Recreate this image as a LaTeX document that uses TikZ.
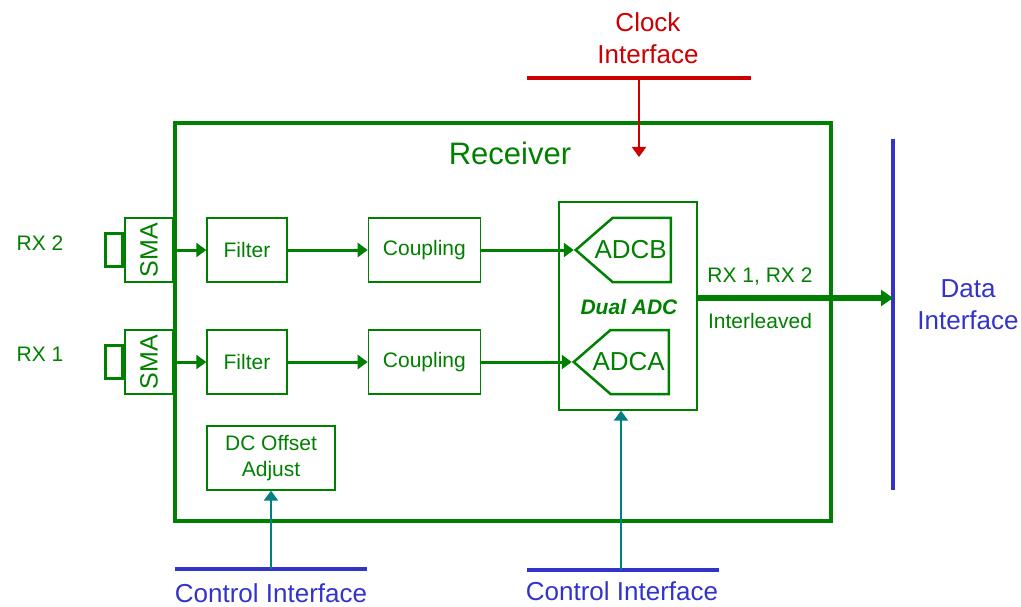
\documentclass[tikz,border=0pt]{standalone}
\usepackage{fontspec}
\setmainfont{Liberation Sans}
\usetikzlibrary{positioning,arrows.meta,shapes.symbols}
\definecolor{rxgreen}{RGB}{0,128,0}
\definecolor{clkred}{RGB}{204,0,0}
\definecolor{ifblue}{RGB}{51,51,204}
\definecolor{ctlteal}{RGB}{0,128,128}

\begin{document}
\begin{tikzpicture}[
  x=1pt, y=-1pt,
  font=\fontsize{21}{26}\selectfont,
  >={Triangle[length=10pt,width=14pt]},
  blk/.style={draw=rxgreen, line width=1.4pt, text=rxgreen, align=center,
              minimum height=64pt, inner sep=0pt},
  sma/.style={draw=rxgreen, line width=2.5pt, text=rxgreen, minimum width=64pt,
              minimum height=48pt, inner sep=0pt, font=\fontsize{25}{30}\selectfont},
  tab/.style={draw=rxgreen, line width=2.5pt, minimum width=17pt, minimum height=33pt,
              inner sep=0pt},
  adc/.style={draw=rxgreen, line width=2.5pt, text=rxgreen, signal, signal to=west,
              signal pointer angle=82, minimum height=64pt, inner ysep=0pt,
              inner xsep=4pt, anchor=east, font=\fontsize{26}{30}\selectfont},
  sig/.style={draw=rxgreen, line width=3pt},
  lbl/.style={text=rxgreen, align=center, inner sep=0pt},
  iface/.style={line width=4pt},
  ifname/.style={align=center, inner sep=0pt, font=\fontsize{26}{32}\selectfont}
]
\useasboundingbox (0,0) rectangle (1021,607);

\node[draw=rxgreen, line width=3.5pt, minimum width=656pt, minimum height=398pt]
  (rx) at (503,322) {};
\node[lbl, font=\fontsize{31}{36}\selectfont] (rxname) at (510,153) {Receiver};

\node[sma, rotate=90] (sma2) at (149,250) {SMA};
\node[sma, rotate=90] (sma1) at (149,362) {SMA};
\node[tab, left=0pt of sma2.north] (tab2) {};
\node[tab, left=0pt of sma1.north] (tab1) {};
\node[lbl, text=rxgreen] (rx2) at (40,243) {RX 2};
\node[lbl, text=rxgreen] (rx1) at (40,354) {RX 1};

\node[blk, minimum width=80pt] (filt2) at (247,250) {Filter};
\node[blk, minimum width=80pt] (filt1) at (247,362) {Filter};
\node[blk, minimum width=112pt, right=80pt of filt2] (coup2) {Coupling};
\node[blk, minimum width=112pt, right=80pt of filt1] (coup1) {Coupling};

\node[blk, minimum width=138pt, minimum height=208pt] (dual) at (628,306) {};
\node[adc] (adcb) at (672,250) {\hspace*{-22pt}ADCB};
\node[adc] (adca) at (670,362) {\hspace*{-22pt}ADCA};
\node[lbl, font=\fontsize{21}{26}\selectfont\bfseries\itshape] (dualname) at (629,307) {Dual ADC};

\node[blk, minimum width=128pt] (dc) at (271,458) {DC Offset\\Adjust};

\draw[sig, ->] (sma2.south) -- (filt2);
\draw[sig, ->] (sma1.south) -- (filt1);
\draw[sig, ->] (filt2) -- (coup2);
\draw[sig, ->] (filt1) -- (coup1);
\draw[sig, ->] (coup2) -- (adcb.west);
\draw[sig, ->] (coup1) -- (adca.west);

\coordinate (dtop) at (893,139);
\coordinate (dbot) at (893,490);
\coordinate (dout) at (893,298);
\draw[ifblue, iface] (dtop) -- (dbot);
\draw[rxgreen, line width=5.5pt, -{Triangle[length=12pt,width=16pt]}] (dual.east |- dout) -- (dout);
\node[lbl] (rxout) at (760,277) {RX 1, RX 2};
\node[lbl] (ilv) at (760,321) {Interleaved};
\node[ifname, text=ifblue] (dataif) at (968,305) {Data\\Interface};

\coordinate (clkl) at (527,78);
\coordinate (clkr) at (751,78);
\coordinate (clkmid) at (639,78);
\coordinate (clktip) at (639,157);
\draw[clkred, line width=3.5pt] (clkl) -- (clkr);
\draw[clkred, line width=2pt, ->] (clkmid) -- (clktip);
\node[ifname, text=clkred] (clkif) at (648,38) {Clock\\Interface};

\coordinate (ctl1l) at (175,569);
\coordinate (ctl1r) at (367,569);
\coordinate (ctl1mid) at (271,569);
\coordinate (ctl2l) at (527,570);
\coordinate (ctl2r) at (719,570);
\coordinate (ctl2mid) at (621,570);
\draw[ifblue, iface] (ctl1l) -- (ctl1r);
\draw[ifblue, iface] (ctl2l) -- (ctl2r);
\draw[ctlteal, line width=2.5pt, ->] (ctl1mid) -- (dc.south);
\draw[ctlteal, line width=2.5pt, ->] (ctl2mid) -- (ctl2mid |- dual.south);
\node[ifname, text=ifblue, anchor=base] (ctl1if) at (271,602) {Control Interface};
\node[ifname, text=ifblue, anchor=base] (ctl2if) at (622,600) {Control Interface};
\end{tikzpicture}
\end{document}
